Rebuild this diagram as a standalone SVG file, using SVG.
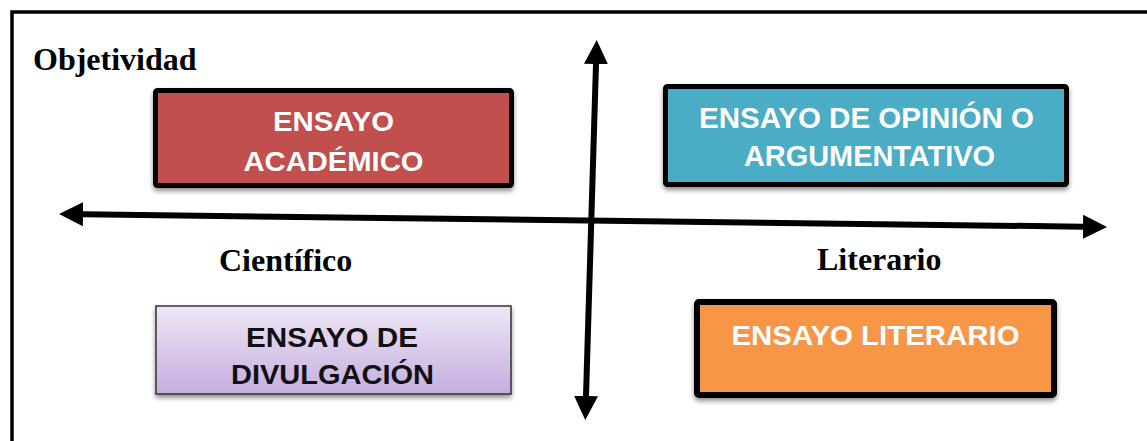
<svg xmlns="http://www.w3.org/2000/svg" width="1147" height="441" viewBox="0 0 1147 441">
<style>
.axis{font-family:"Liberation Serif","Times New Roman",serif;font-weight:bold;font-size:32px;fill:#000}
.lbl{font-family:"Liberation Sans",Arial,sans-serif;font-weight:bold;font-size:28px;text-anchor:middle}
.w{fill:#fff}
.k{fill:#111}
.ax{stroke:#000;stroke-width:6;fill:none}
</style>
<defs>
<marker id="ah" markerUnits="userSpaceOnUse" markerWidth="25" markerHeight="25" refX="0" refY="12" orient="auto-start-reverse" viewBox="0 0 25 24">
<path d="M0,0 L24,12 L0,24 z" fill="#000"/>
</marker>
<linearGradient id="pg" x1="0" y1="0" x2="0" y2="1">
<stop offset="0" stop-color="#EEE7F6"/>
<stop offset="1" stop-color="#C5AEDF"/>
</linearGradient>
<filter id="sh" x="-5%" y="-10%" width="110%" height="130%">
<feGaussianBlur in="SourceAlpha" stdDeviation="2.5"/>
<feOffset dx="0" dy="3" result="b"/>
<feComponentTransfer><feFuncA type="linear" slope="0.45"/></feComponentTransfer>
<feMerge><feMergeNode/><feMergeNode in="SourceGraphic"/></feMerge>
</filter>
</defs>
<rect width="1147" height="441" fill="#fff"/>
<g id="frame">
<path d="M12,441 L12,12 L1147,12" fill="none" stroke="#000" stroke-width="3.5"/>
</g>
<g id="connectors">
<line class="ax" x1="83" y1="214.3" x2="1083" y2="226.7" marker-start="url(#ah)" marker-end="url(#ah)"/>
<line class="ax" x1="596" y1="64" x2="586" y2="396" marker-start="url(#ah)" marker-end="url(#ah)"/>
</g>
<g id="label-objetividad"><text class="axis" x="33" y="70">Objetividad</text></g>
<g id="label-cientifico"><text class="axis" x="219" y="271">Científico</text></g>
<g id="label-literario"><text class="axis" x="817" y="270">Literario</text></g>
<g id="node-academico">
<rect x="155.5" y="90.5" width="356" height="95" fill="#C0504D" stroke="#000" stroke-width="5" rx="2" filter="url(#sh)"/>
<text class="lbl w" x="333.5" y="130.5" textLength="121" lengthAdjust="spacingAndGlyphs">ENSAYO</text>
<text class="lbl w" x="333.5" y="170.5" textLength="180" lengthAdjust="spacingAndGlyphs">ACADÉMICO</text>
</g>
<g id="node-opinion">
<rect x="665.5" y="86.5" width="401" height="98" fill="#4BACC6" stroke="#000" stroke-width="5" rx="2" filter="url(#sh)"/>
<text class="lbl w" x="866.5" y="127.5" style="font-size:29px" textLength="335" lengthAdjust="spacingAndGlyphs">ENSAYO DE OPINIÓN O</text>
<text class="lbl w" x="869.5" y="166" style="font-size:29px" textLength="251" lengthAdjust="spacingAndGlyphs">ARGUMENTATIVO</text>
</g>
<g id="node-divulgacion">
<rect x="156" y="306" width="355" height="88" fill="url(#pg)" stroke="#333" stroke-width="1.5" filter="url(#sh)"/>
<text class="lbl k" x="332" y="347" textLength="172" lengthAdjust="spacingAndGlyphs">ENSAYO DE</text>
<text class="lbl k" x="332.5" y="383.5" textLength="203" lengthAdjust="spacingAndGlyphs">DIVULGACIÓN</text>
</g>
<g id="node-literario">
<rect x="697" y="302" width="357" height="93" fill="#F79646" stroke="#000" stroke-width="6" rx="2" filter="url(#sh)"/>
<text class="lbl w" x="875.5" y="344.5" textLength="288" lengthAdjust="spacingAndGlyphs">ENSAYO LITERARIO</text>
</g>
</svg>
